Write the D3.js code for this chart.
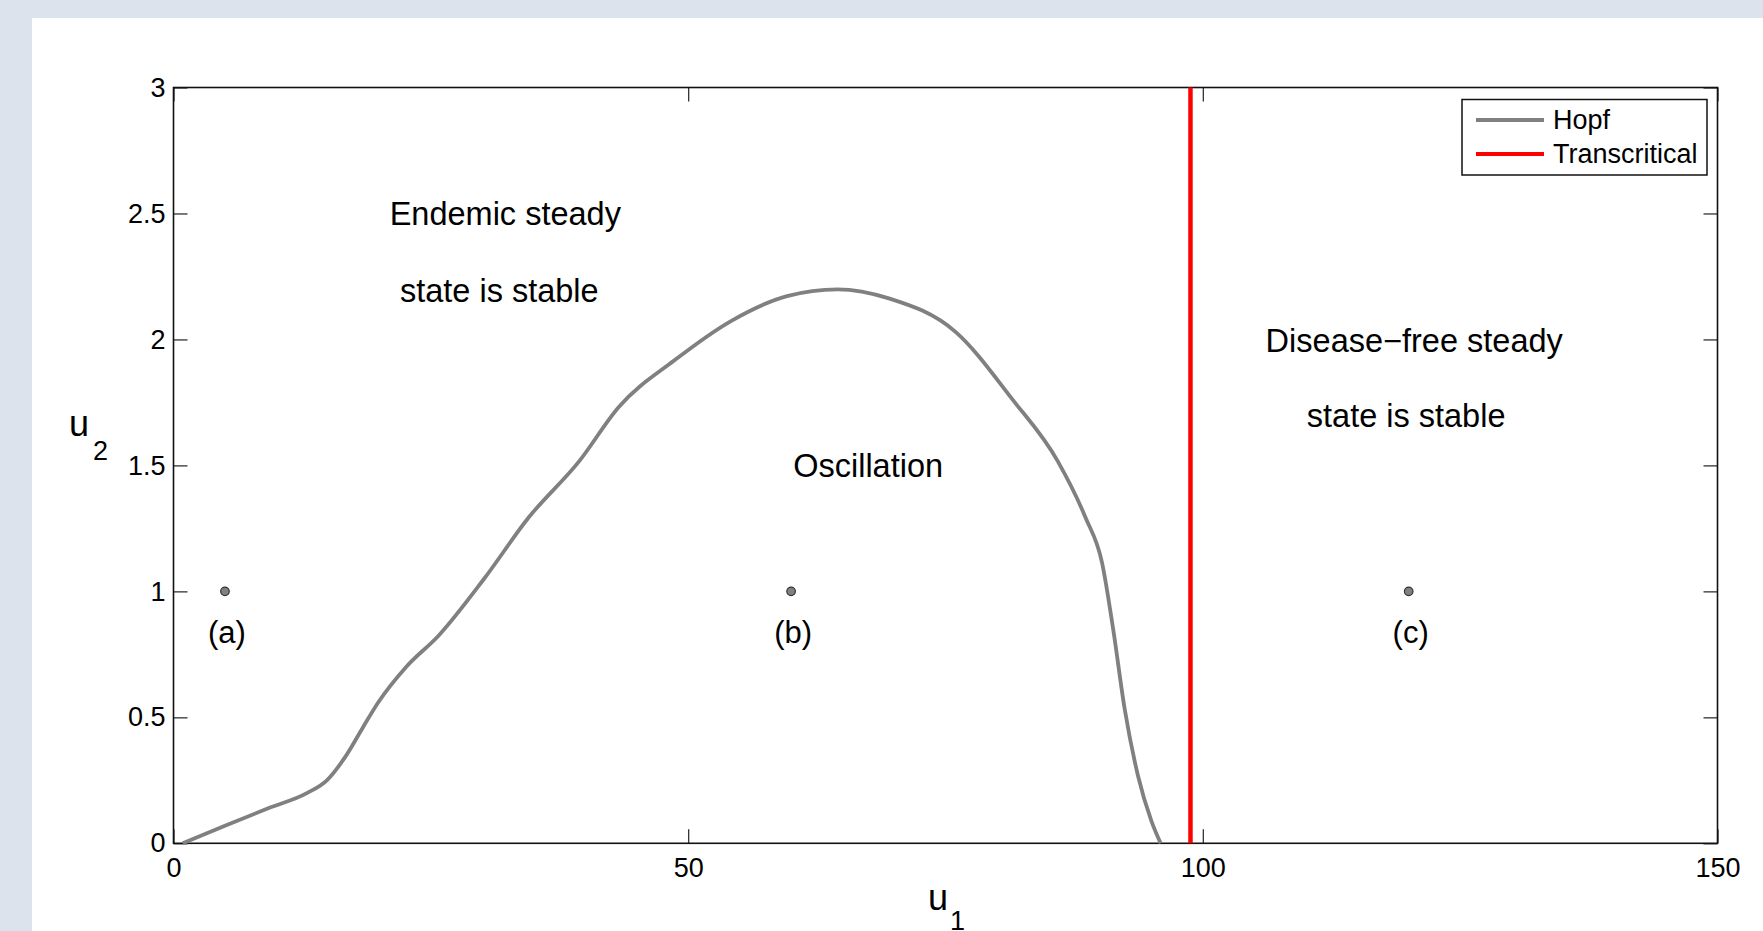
<html>
<head>
<script src="https://d3js.org/d3.v7.min.js"></script>
<style>
  body { margin: 0; background: #dde3ed; }
  text { font-family: "Liberation Sans", Arial, Helvetica, sans-serif; }
</style>
</head>
<body>
<script>
// axis ticks
var u1Ticks = [0, 50, 100, 150];
var u2Ticks = [0, 0.5, 1, 1.5, 2, 2.5, 3];

// Hopf bifurcation curve (u1, u2)
var hopfU1 = [0.9, 5, 9.2, 13, 14.9, 16.8, 18.4, 19.9, 22.6, 25.77, 30.14, 34.5, 39.42, 43.24, 48.7, 54.2, 59.6, 64.5, 69.5, 76.0, 81.5, 85.9, 88.6, 90.2, 91.3, 92.4, 93.7, 95.0, 95.9];
var hopfU2 = [0, 0.07, 0.139, 0.2, 0.25, 0.35, 0.46, 0.56, 0.7, 0.825, 1.048, 1.293, 1.517, 1.731, 1.918, 2.074, 2.172, 2.199, 2.163, 2.029, 1.762, 1.517, 1.293, 1.115, 0.847, 0.535, 0.268, 0.089, 0];

// transcritical bifurcation
var transU1 = 98.8;

// sample points
var pointU1 = [5, 60, 120];
var pointU2 = [1, 1, 1];
var pointLabels = ["(a)", "(b)", "(c)"];
var pointLabelU2 = 0.84;

// region annotations
var regionText = ["Endemic steady", "state is stable", "Disease\u2212free steady", "state is stable", "Oscillation"];
var regionU1 = [21, 22, 106.1, 110.1, 60.2];
var regionU2 = [2.5, 2.195, 1.995, 1.696, 1.5];

var legendNames = ["Hopf", "Transcritical"];
var legendColors = ["#808080", "#ff0000"];

var W = 1763, H = 931;
var L = 173.5, R = 1717.5, T = 87.5, B = 843.3;
var tick = 14;

var svg = d3.select("body").append("svg").attr("width", W).attr("height", H);

// white panel
svg.append("rect").attr("x", 32).attr("y", 18).attr("width", W - 32).attr("height", H - 18).attr("fill", "#ffffff");

var x = d3.scaleLinear().domain([0, 150]).range([L, R]);
var y = d3.scaleLinear().domain([0, 3]).range([B, T]);

// axes, ticks pointing inward
var fmt = function(d){ return d; };
svg.append("g").attr("transform", "translate(0," + B + ")")
  .call(d3.axisBottom(x).tickValues(u1Ticks).tickFormat(fmt).tickSize(-tick).tickSizeOuter(0).tickPadding(15));
svg.append("g").attr("transform", "translate(" + L + ",0)")
  .call(d3.axisLeft(y).tickValues(u2Ticks).tickFormat(fmt).tickSize(-tick).tickSizeOuter(0).tickPadding(8));
svg.append("g").attr("transform", "translate(0," + T + ")")
  .call(d3.axisTop(x).tickValues(u1Ticks).tickFormat("").tickSize(-tick).tickSizeOuter(0));
svg.append("g").attr("transform", "translate(" + R + ",0)")
  .call(d3.axisRight(y).tickValues(u2Ticks).tickFormat("").tickSize(-tick).tickSizeOuter(0));

svg.selectAll(".domain").remove();
svg.selectAll(".tick line").attr("stroke", "#333").attr("stroke-width", 1.3);
svg.selectAll(".tick text").attr("font-size", 27).attr("fill", "#000")
  .style("font-family", "'Liberation Sans', Arial, sans-serif");

// box
svg.append("rect").attr("x", L).attr("y", T).attr("width", R - L).attr("height", B - T)
  .attr("fill", "none").attr("stroke", "#111").attr("stroke-width", 1.6);

// Hopf curve
var hopf = hopfU1.map(function(d, i){ return [d, hopfU2[i]]; });
var line = d3.line().x(function(d){ return x(d[0]); }).y(function(d){ return y(d[1]); })
  .curve(d3.curveMonotoneX);
svg.append("path").attr("d", line(hopf)).attr("fill", "none")
  .attr("stroke", "#808080").attr("stroke-width", 3.8);

// Transcritical line
svg.append("line").attr("x1", x(transU1)).attr("x2", x(transU1))
  .attr("y1", y(0)).attr("y2", y(3))
  .attr("stroke", "#ff0000").attr("stroke-width", 4.5);

// points
svg.selectAll(".pt").data(pointU1).enter().append("circle")
  .attr("cx", function(d){ return x(d); })
  .attr("cy", function(d, i){ return y(pointU2[i]); })
  .attr("r", 4.3).attr("fill", "#808080").attr("stroke", "#333").attr("stroke-width", 1.2);

svg.selectAll(".ptlab").data(pointLabels).enter().append("text")
  .attr("x", function(d, i){ return x(pointU1[i]) + 2; })
  .attr("y", y(pointLabelU2)).attr("dy", "0.35em")
  .attr("text-anchor", "middle").attr("font-size", 31).text(function(d){ return d; });

// region text
svg.selectAll(".region").data(regionText).enter().append("text")
  .attr("x", function(d, i){ return x(regionU1[i]); })
  .attr("y", function(d, i){ return y(regionU2[i]); })
  .attr("dy", "0.35em").attr("font-size", 32.5).text(function(d){ return d; });

// axis labels
var xl = svg.append("text").attr("x", 928).attr("y", 910).attr("font-size", 36);
xl.append("tspan").text("u");
xl.append("tspan").attr("dx", 2).attr("dy", 20).attr("font-size", 27).text("1");
var yl = svg.append("text").attr("x", 69).attr("y", 436).attr("font-size", 36);
yl.append("tspan").text("u");
yl.append("tspan").attr("dx", 4).attr("dy", 24).attr("font-size", 27).text("2");

// legend
var lg = svg.append("g");
lg.append("rect").attr("x", 1462).attr("y", 99.5).attr("width", 245).attr("height", 75.5)
  .attr("fill", "#fff").attr("stroke", "#111").attr("stroke-width", 1.5);
legendNames.forEach(function(n, i){
  var ly = 120 + i * 34;
  lg.append("line").attr("x1", 1476).attr("x2", 1544).attr("y1", ly).attr("y2", ly)
    .attr("stroke", legendColors[i]).attr("stroke-width", 4);
  lg.append("text").attr("x", 1553).attr("y", ly).attr("dy", "0.35em")
    .attr("font-size", 27).text(n);
});
</script>
</body>
</html>
